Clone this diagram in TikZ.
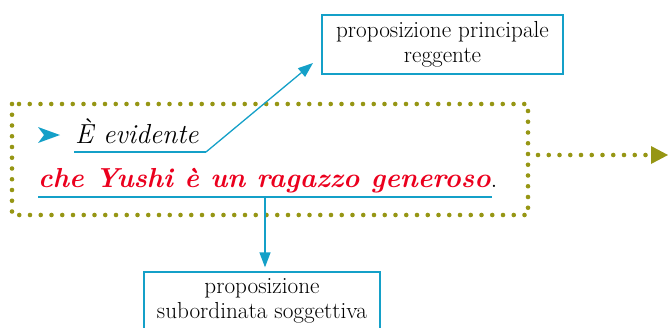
\documentclass[tikz,border=0pt]{standalone}
\usetikzlibrary{arrows.meta}
\definecolor{blu}{RGB}{20,160,200}
\definecolor{oliva}{RGB}{150,150,20}
\definecolor{rosso}{RGB}{235,0,30}
\tikzset{
  riquadro/.style={draw=blu,line width=1.3pt,align=center,inner sep=0pt,
    font=\fontsize{23.2}{24.5}\selectfont},
  puntini/.style={draw=oliva,line width=4.6pt,line cap=round,dash pattern=on 0pt off 10.75pt},
  freccia/.style={draw=blu,line width=1.3pt,-{Triangle[length=15pt,width=11pt]}}
}
\begin{document}
\begin{tikzpicture}[x=1pt,y=-1pt]
  \useasboundingbox (0,0) rectangle (668,327);
  \def\grande{\fontsize{27.5}{30}\selectfont}
  % cornice a puntini
  \draw[puntini] (12,104) rectangle (528,215);
  \coordinate (da) at (538,155);
  \coordinate (a) at (668,155);
  \draw[puntini] (da) -- ([xshift=-14pt]a);
  \fill[oliva] (651,146) -- (668,155) -- (651,164) -- cycle;
  % frase
  \fill[blu] (38,127) -- (60,135) -- (38,143) -- (44,135) -- cycle;
  \node[anchor=base west,inner sep=0pt,font=\grande\itshape] (reg) at (75,143) {È evidente};
  \node[anchor=base west,inner sep=0pt,font=\grande] (sub) at (38,187)
    {\textcolor{rosso}{\bfseries\itshape che Yushi è un ragazzo generoso}.};
  % riquadri
  \node[riquadro,minimum width=241pt,minimum height=59pt] (princ) at (442.5,44.5)
    {proposizione principale\\reggente};
  \node[riquadro,minimum width=236pt,minimum height=58pt] (sogg) at (262,301)
    {proposizione\\subordinata soggettiva};
  % sottolineature e frecce
  \coordinate (ua) at (74,152);
  \coordinate (ub) at (206,152);
  \coordinate (pt) at (313,63);
  \draw[blu,line width=1.3pt] (ua) -- (ub);
  \draw[freccia] (ub) -- (pt);
  \coordinate (uc) at (38,197);
  \coordinate (ud) at (492,197);
  \coordinate (ue) at (265,197);
  \draw[blu,line width=1.3pt] (uc) -- (ud);
  \draw[freccia,shorten >=4pt] (ue) -- (ue |- sogg.north);
\end{tikzpicture}
\end{document}
